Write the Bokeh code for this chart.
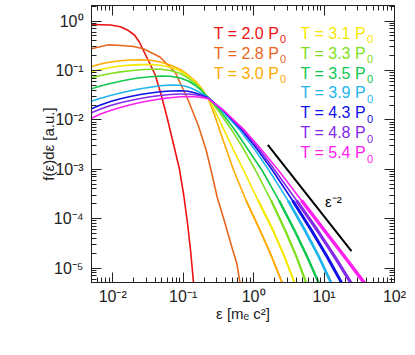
from bokeh.plotting import figure
from bokeh.models import LogAxis, FixedTicker, Range1d, ColumnDataSource
from bokeh.embed import file_html
from bokeh.resources import INLINE
from bokeh.core.properties import value

# ---------------- data ----------------
eps_T20 = [0.00500, 0.00929, 0.01288, 0.01671, 0.02033, 0.02392, 0.02817, 0.03315, 0.03994, 0.04903,
           0.05963, 0.07253, 0.08820, 0.1021, 0.1164, 0.1283, 0.1406]
f_T20 = [0.853, 0.834, 0.770, 0.645, 0.523, 0.3776, 0.2313, 0.1452, 0.0830, 0.0312,
         0.01067, 0.00333, 0.001038, 2.949e-4, 7.28e-5, 2.07e-5, 4.9e-6]

eps_T28 = [0.0050, 0.00871, 0.0133, 0.0197, 0.0273, 0.0474, 0.0774, 0.1183, 0.164, 0.213, 0.259, 0.305, 0.383, 0.492, 0.579, 0.644]
f_T28 = [0.275, 0.331, 0.321, 0.306, 0.275, 0.186, 0.0912, 0.0247, 0.0077, 0.0024, 7.5e-4, 2.69e-4, 9.2e-5, 2.65e-5, 1.22e-5, 4.9e-6]

eps_head = [0.00500, 0.00671, 0.00929, 0.01288, 0.0178, 0.0247, 0.0343, 0.0474, 0.0658, 0.0912, 0.118, 0.149, 0.181, 0.227]

eps_T30 = eps_head + [0.2807, 0.3704, 0.5218, 0.7844, 1.238, 1.802, 2.564]
f_T30 = [0.1205, 0.1354, 0.1486, 0.1579, 0.1632, 0.1646, 0.1609, 0.1486, 0.1292, 0.1047, 0.0811, 0.0613, 0.0442, 0.0271,
         0.01228, 0.00383, 9.46e-4, 2.33e-4, 5.76e-5, 1.72e-5, 4.9e-6]

eps_T31 = eps_head + [0.2853, 0.3827, 0.5218, 0.7231, 1.160, 1.892, 2.735, 3.837]
f_T31 = [0.0954, 0.1047, 0.1150, 0.1234, 0.1286, 0.1317, 0.1323, 0.1274, 0.1166, 0.0977, 0.0774, 0.0585, 0.0422, 0.0277,
         0.0148, 0.00612, 0.00240, 9.46e-4, 2.33e-4, 5.76e-5, 1.72e-5, 4.9e-6]

eps_T33 = eps_head + [0.3147, 0.4935, 0.7419, 1.069, 1.773, 2.817, 4.045, 5.610]
f_T33 = [0.0711, 0.0792, 0.0870, 0.0937, 0.0991, 0.1038, 0.1062, 0.1057, 0.1000, 0.0870, 0.0705, 0.0545, 0.0412, 0.0284,
         0.0155, 0.00612, 0.00240, 9.46e-4, 2.33e-4, 5.76e-5, 1.72e-5, 4.9e-6]

eps_T35 = eps_head + [0.3359, 0.5480, 0.8507, 1.322, 2.301, 3.815, 5.734, 8.472]
f_T35 = [0.0426, 0.0486, 0.0545, 0.0607, 0.0663, 0.0715, 0.0749, 0.0770, 0.0763, 0.0705, 0.0613, 0.0497, 0.0394, 0.0284,
         0.0155, 0.00612, 0.00240, 9.46e-4, 2.33e-4, 5.76e-5, 1.72e-5, 4.9e-6]

eps_T39 = eps_head + [0.3551, 0.6450, 1.062, 1.660, 3.086, 5.373, 8.400, 12.68]
f_T39 = [0.0239, 0.0275, 0.0312, 0.0350, 0.0388, 0.0426, 0.0459, 0.0490, 0.0509, 0.0502, 0.0463, 0.0403, 0.0346, 0.0284,
         0.0155, 0.00612, 0.00240, 9.46e-4, 2.33e-4, 5.76e-5, 1.72e-5, 4.9e-6]

eps_T43 = eps_head + [0.3704, 0.6884, 1.160, 1.861, 3.573, 6.640, 11.01, 17.95]
f_T43 = [0.0168, 0.0200, 0.0236, 0.0267, 0.0298, 0.0327, 0.0350, 0.0371, 0.0385, 0.0390, 0.0379, 0.0350, 0.0319, 0.0280,
         0.0155, 0.00612, 0.00240, 9.46e-4, 2.33e-4, 5.76e-5, 1.72e-5, 4.9e-6]

eps_T48 = eps_head + [0.3753, 0.7206, 1.238, 2.018, 4.072, 8.077, 14.06, 24.32]
f_T48 = [0.0139, 0.0166, 0.0196, 0.0223, 0.0247, 0.0271, 0.0294, 0.0312, 0.0327, 0.0334, 0.0334, 0.0322, 0.0305, 0.0275,
         0.0155, 0.00612, 0.00240, 9.46e-4, 2.33e-4, 5.76e-5, 1.72e-5, 4.9e-6]

eps_T54 = eps_head + [0.3777, 0.7491, 1.322, 2.264, 4.793, 10.15, 19.49, 37.67]
f_T54 = [0.0108, 0.0132, 0.0155, 0.0178, 0.0202, 0.0225, 0.0247, 0.0266, 0.0281, 0.0294, 0.0298, 0.0294, 0.0284, 0.0267,
         0.0155, 0.00612, 0.00240, 9.46e-4, 2.33e-4, 5.76e-5, 1.72e-5, 4.9e-6]

temps = ["2.0", "2.8", "3.0", "3.1", "3.3", "3.5", "3.9", "4.3", "4.8", "5.4"]
colors = ["#ee1111", "#e8671e", "#ffaa00", "#f5e800", "#80e020", "#10c850", "#20b4ee", "#1010e8", "#8428ec", "#ff20f0"]

# reference power law eps^-2 segment
ref_eps = [1.59, 24.5]
ref_f = [3.13e-3, 2.2e-5]

x_major = [0.01, 0.1, 1, 10, 100]
x_labels = ["10⁻²", "10⁻¹", "10⁰", "10¹", "10²"]
y_major = [1e-5, 1e-4, 1e-3, 1e-2, 1e-1, 1]
y_labels = ["10⁻⁵", "10⁻⁴", "10⁻³", "10⁻²", "10⁻¹", "10⁰"]

FONT = "Liberation Sans"
INK = "#222222"

p = figure(x_axis_type="log", y_axis_type="log",
           x_range=Range1d(5.0e-3, 100), y_range=Range1d(5.11e-6, 2.07),
           frame_width=303, frame_height=277,
           min_border_left=91, min_border_right=12, min_border_top=5, min_border_bottom=48,
           output_backend="svg", toolbar_location=None)
p.grid.visible = False
p.outline_line_color = INK
p.background_fill_color = "white"
p.border_fill_color = "white"

x_minor = [k * 10.0 ** n for n in range(-3, 2) for k in range(2, 10)]
y_minor = [k * 10.0 ** n for n in range(-6, 1) for k in range(2, 10)]

def style(ax):
    ax.major_tick_in = 10
    ax.major_tick_out = 0
    ax.minor_tick_in = 5
    ax.minor_tick_out = 0
    ax.axis_line_color = INK
    ax.major_tick_line_color = INK
    ax.minor_tick_line_color = INK
    ax.major_label_text_font = FONT
    ax.major_label_text_color = INK
    ax.axis_label_text_font = FONT
    ax.axis_label_text_font_style = "normal"
    ax.axis_label_text_color = INK

xa = p.xaxis[0]
xa.ticker = FixedTicker(ticks=x_major, minor_ticks=x_minor)
xa.major_label_overrides = dict(zip(x_major, x_labels))
style(xa)
xa.major_label_text_font_size = "16px"
xa.major_label_standoff = 5
xa.axis_label = "ε [mₑ c²]"
xa.axis_label_text_font_size = "15px"
xa.axis_label_standoff = -3

ya = p.yaxis[0]
ya.ticker = FixedTicker(ticks=y_major, minor_ticks=y_minor)
ya.major_label_overrides = dict(zip(y_major, y_labels))
style(ya)
ya.major_label_text_font_size = "16px"
ya.major_label_standoff = 8
ya.axis_label = "f(ε)dε [a.u.]"
ya.axis_label_text_font_size = "15px"
ya.axis_label_standoff = -6

top = LogAxis(ticker=FixedTicker(ticks=x_major, minor_ticks=x_minor))
style(top)
top.major_label_overrides = {t: "" for t in x_major}
top.major_label_text_font_size = "0px"
top.major_label_standoff = 0
p.add_layout(top, "above")

right = LogAxis(ticker=FixedTicker(ticks=y_major, minor_ticks=y_minor))
style(right)
right.major_label_overrides = {t: "" for t in y_major}
right.major_label_text_font_size = "0px"
right.major_label_standoff = 0
p.add_layout(right, "right")

series = [(eps_T20, f_T20), (eps_T28, f_T28), (eps_T30, f_T30), (eps_T31, f_T31), (eps_T33, f_T33),
          (eps_T35, f_T35), (eps_T39, f_T39), (eps_T43, f_T43), (eps_T48, f_T48), (eps_T54, f_T54)]
tail_w = [0, 0, 1.8, 2.0, 2.2, 2.4, 2.7, 3.0, 3.2, 3.5]
for (ex, fy), c, tw in zip(series, colors, tail_w):
    p.line(ex, fy, line_color=c, line_width=1.6, line_join="round")
    if tw:
        p.line(ex[-4:], fy[-4:], line_color=c, line_width=tw, line_join="round")

p.line(ref_eps, ref_f, line_color="black", line_width=2)
p.text(x=[10.3], y=[2.28e-4], text=["ε⁻²"], text_font=value(FONT), text_font_size=value("15px"),
       text_color="black", text_align="left", text_baseline="alphabetic")

# legend: two columns of coloured labels
leg_x = [2.30, 2.30, 2.30, 39.3, 39.3, 39.3, 39.3, 39.3, 39.3, 39.3]
leg_y = [0.574, 0.226, 0.0889, 0.574, 0.226, 0.0889, 0.0351, 0.01386, 0.00545, 0.00216]
src = ColumnDataSource(dict(x=leg_x, y=leg_y, t=["T = %s P" % t for t in temps],
                            s=["0"] * len(temps), c=colors))
p.text(x="x", y="y", text="t", text_color="c", source=src, text_font=value(FONT),
       text_font_size=value("16px"), text_align="right", text_baseline="alphabetic")
p.text(x="x", y="y", text="s", text_color="c", source=src, text_font=value(FONT),
       text_font_size=value("11px"), text_align="left", text_baseline="alphabetic",
       x_offset=1, y_offset=6)

open("out.html", "w").write(file_html(p, INLINE))
